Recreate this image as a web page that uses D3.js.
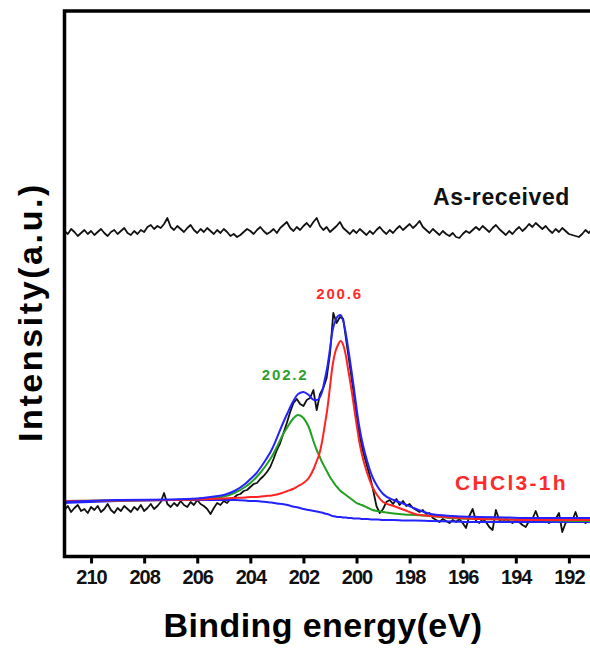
<!DOCTYPE html>
<html>
<head>
<meta charset="utf-8">
<script src="https://cdn.jsdelivr.net/npm/d3@7"></script>
<style>
  html, body { margin: 0; padding: 0; background: #fff; }
  svg { display: block; font-family: "Liberation Sans", Arial, sans-serif; }
</style>
</head>
<body>
<svg id="chart" width="590" height="650"></svg>
<script>
// ---- N 1s spectra (binding energy in eV, intensity in arbitrary units) ----

// raw scans are sampled every 0.125 eV from 211 eV downwards
const scanStart = 211;
const scanStep = 0.125;

// As-received sample: featureless N 1s region
const asReceived = [
  325,322,327,324,320,323,326,322,325,321,324,327,323,320,324,326,322,325,328,323,
  321,325,322,326,324,329,331,327,330,328,332,338,329,326,330,327,324,328,331,326,
  323,327,324,328,325,322,326,323,327,324,320,322,319,321,324,327,325,322,326,329,
  325,322,324,327,323,328,331,334,328,325,329,326,330,333,329,334,338,330,326,329,
  324,327,330,334,328,325,322,326,323,327,324,321,325,322,326,329,325,322,326,323,
  327,330,326,329,332,328,331,335,329,326,323,327,324,321,325,322,320,323,319,318,
  322,325,323,326,329,326,330,327,324,328,331,327,324,321,325,322,326,329,325,328,
  332,329,333,330,327,330,326,323,327,324,328,325,322,321,320,319,322,326,323,327,
  325
];

// CHCl3-treated sample (1 h): measured counts
const chcl3Raw = [
  46,50,44,48,51,45,47,43,49,46,50,44,47,52,46,43,48,45,50,47,
  44,49,46,51,45,48,52,47,50,54,63,52,49,53,50,55,51,49,54,51,
  56,52,50,47,42,48,53,51,55,53,57,58,61,62,65,66,69,72,73,77,
  80,84,89,97,106,113,123,133,144,153,157,152,150,156,158,166,146,162,168,178,
  202,243,233,239,237,213,190,166,141,119,104,92,80,66,50,43,47,54,56,52,
  57,51,55,50,52,48,46,44,46,42,43,38,36,34,37,35,33,36,34,37,
  33,28,40,47,35,33,37,34,29,26,46,36,34,37,35,33,36,34,31,29,
  35,37,45,36,34,36,33,35,37,43,24,33,36,35,44,34,36,33,35,37,
  34
];

// curve-fit results for the CHCl3-1h spectrum
const fitEnergy = [
  211.0, 209.0, 207.0, 206.0, 205.5, 205.0, 204.6, 204.2, 204.0, 203.8,
  203.6, 203.4, 203.2, 203.0, 202.8, 202.6, 202.4, 202.2, 202.0, 201.8,
  201.6, 201.5, 201.4, 201.3, 201.2, 201.1, 201.0, 200.9, 200.8, 200.7,
  200.6, 200.5, 200.4, 200.3, 200.2, 200.1, 200.0, 199.9, 199.8, 199.6,
  199.4, 199.2, 199.0, 198.6, 198.2, 197.8, 197.2, 196.4, 195.4, 194.4,
  193.4, 192.4, 191.4, 190.0
];
const fitBackground = [
  53, 55, 56, 56, 56, 56, 56, 55.5, 55, 55,
  54.5, 54, 53.5, 52.5, 52, 51, 49.5, 48.5, 47, 46,
  45, 44.5, 44, 43.5, 42.5, 42, 41, 40, 39.5, 39,
  39, 38.5, 38.5, 38, 38, 37.5, 37.5, 37.5, 37, 37,
  36.5, 36.5, 36, 36, 35.5, 35.5, 35, 34.5, 34, 34,
  34, 34, 34, 34
];
const fitPeakA = [   // N component at 202.2 eV
  55, 55.5, 56, 57, 58, 59.5, 63, 69, 73, 78,
  84, 91, 99, 109, 120, 129, 137, 141, 138, 129,
  113, 106, 100, 94, 89, 84, 79, 75, 71, 68,
  65, 63, 61, 59, 57, 55, 53, 52, 51, 48.5,
  46, 45, 44, 42.5, 41.5, 41, 40, 38, 37, 36.5,
  36, 35.5, 35, 35
];
const fitPeakB = [   // N component at 200.6 eV
  55, 55.5, 56, 56.5, 57, 57.5, 58, 58.5, 59, 59,
  59.5, 60, 60.5, 61.5, 63, 65, 67, 70, 73, 78,
  88, 95, 102, 114, 130, 147, 169, 191, 204, 211,
  215, 211, 200, 184, 168, 150, 132, 115, 102, 83,
  69, 60, 54, 50, 46, 42, 40, 38.5, 37, 36.5,
  36, 36, 36, 36
];
const fitEnvelope = [
  54, 56, 56.5, 57.5, 59, 61, 65, 72, 77, 82,
  89, 97, 106, 118, 131, 143, 154, 162, 164, 161,
  156, 156, 158, 164, 176, 189, 207, 226, 235, 240,
  241, 235, 222, 205, 187, 168, 148, 130, 116, 95,
  79, 69, 62, 56, 52, 47.5, 42, 40, 39, 38.5,
  38, 38, 38, 38
];

const xTicks = [210, 208, 206, 204, 202, 200, 198, 196, 194, 192];
const peakLabels = [
  { energy: 202.2, text: "202.2", color: "#2e9e2e", dx: -13, baseline: 380 },
  { energy: 200.6, text: "200.6", color: "#ff2a2a", dx: -1, baseline: 299 }
];

// ---- layout ----
const svg = d3.select("#chart");
const frame = { left: 64.5, top: 11, right: 622, bottom: 556.5 };

const x = d3.scaleLinear().domain([211, 190]).range([frame.left, frame.right]);
const y = d3.scaleLinear().domain([0, 546]).range([556, 10]);

svg.append("defs").append("clipPath").attr("id", "plotClip")
  .append("rect")
  .attr("x", frame.left).attr("y", frame.top)
  .attr("width", frame.right - frame.left).attr("height", frame.bottom - frame.top);

const plot = svg.append("g").attr("clip-path", "url(#plotClip)");

const scanPoints = arr => arr.map((v, i) => [scanStart - i * scanStep, v]);
const fitPoints = arr => arr.map((v, i) => [fitEnergy[i], v]);

const rawLine = d3.line().x(d => x(d[0])).y(d => y(d[1]));
const smoothLine = d3.line().x(d => x(d[0])).y(d => y(d[1])).curve(d3.curveMonotoneX);

// raw spectra
[asReceived, chcl3Raw].forEach(scan => {
  plot.append("path")
    .attr("d", rawLine(scanPoints(scan)))
    .attr("fill", "none").attr("stroke", "#111").attr("stroke-width", 1.8)
    .attr("stroke-linejoin", "round");
});

// fit curves: background, two components, envelope
const fits = [
  { data: fitBackground, color: "#2323ff" },
  { data: fitPeakA, color: "#22a022" },
  { data: fitPeakB, color: "#ff2323" },
  { data: fitEnvelope, color: "#2323ff" }
];
fits.forEach(f => {
  plot.append("path")
    .attr("d", smoothLine(fitPoints(f.data)))
    .attr("fill", "none").attr("stroke", f.color).attr("stroke-width", 2);
});

// ---- frame and axis ----
svg.append("rect")
  .attr("x", frame.left).attr("y", frame.top)
  .attr("width", frame.right - frame.left).attr("height", frame.bottom - frame.top)
  .attr("fill", "none").attr("stroke", "#000").attr("stroke-width", 3.5);

const xAxis = d3.axisBottom(x).tickValues(xTicks).tickSize(7).tickPadding(6).tickSizeOuter(0);
const gx = svg.append("g").attr("transform", `translate(0,${frame.bottom})`).call(xAxis);
gx.select(".domain").remove();
gx.selectAll(".tick line").attr("stroke", "#000").attr("stroke-width", 3);
gx.selectAll(".tick text")
  .attr("fill", "#111")
  .style("font-size", "20px")
  .style("font-weight", "bold")
  .style("letter-spacing", "-1px")
  .style("font-family", "'Liberation Sans', Arial, sans-serif");

// axis titles
svg.append("text")
  .attr("x", 323).attr("y", 637)
  .attr("text-anchor", "middle")
  .style("font-size", "34px").style("font-weight", "bold").style("letter-spacing", "0.4px")
  .text("Binding energy(eV)");

svg.append("text")
  .attr("transform", "translate(42,312) rotate(-90)")
  .attr("text-anchor", "middle")
  .style("font-size", "34px").style("font-weight", "bold").style("letter-spacing", "2.6px")
  .text("Intensity(a.u.)");

// ---- annotations ----
svg.append("text")
  .attr("x", 433).attr("y", 205)
  .style("font-size", "23px").style("font-weight", "bold").style("letter-spacing", "0.6px")
  .attr("fill", "#111")
  .text("As-received");

svg.append("text")
  .attr("x", 455).attr("y", 490)
  .style("font-size", "21px").style("font-weight", "bold").style("letter-spacing", "2.3px")
  .attr("fill", "#ff2a2a")
  .text("CHCl3-1h");

peakLabels.forEach(p => {
  svg.append("text")
    .attr("x", x(p.energy) + p.dx)
    .attr("y", p.baseline)
    .attr("text-anchor", "middle")
    .style("font-size", "15px").style("font-weight", "bold").style("letter-spacing", "1.8px")
    .attr("fill", p.color)
    .text(p.text);
});
</script>
</body>
</html>
